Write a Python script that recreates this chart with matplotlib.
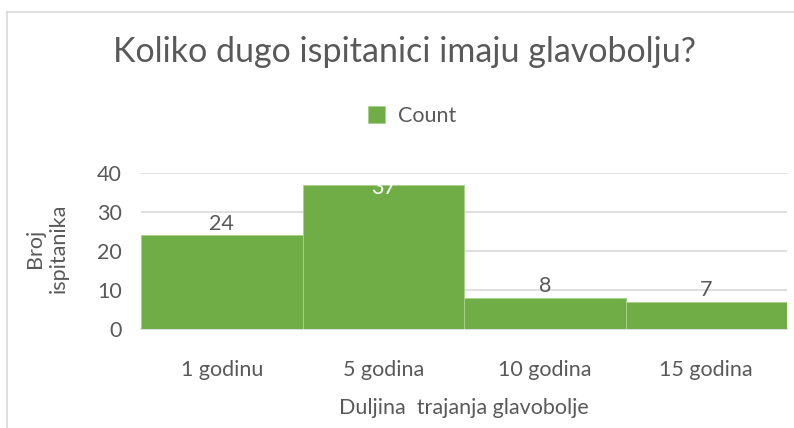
import matplotlib
matplotlib.use("Agg")
import matplotlib.pyplot as plt
from matplotlib.lines import Line2D

categories = ["1 godinu", "5 godina", "10 godina", "15 godina"]
counts = [24, 37, 8, 7]
series_name = "Count"
title = "Koliko dugo ispitanici imaju glavobolju?"
xlabel = "Duljina  trajanja glavobolje"
ylabel = "Broj\nispitanika"
yticks = [0, 10, 20, 30, 40]

plt.rcParams['font.family'] = ['Lato', 'DejaVu Sans']
TXT = '#595959'
GREEN = '#70AD47'
GRID = '#D9D9D9'
FS = 15.5

fig = plt.figure(figsize=(7.94, 4.28), dpi=100)
ax = fig.add_axes([141/794, (428-329)/428, (787-141)/794, (329-173)/428])

x = list(range(len(categories)))
bars = ax.bar(x, counts, width=1.0, color=GREEN, edgecolor='#A9D18E', linewidth=0.6,
              label=series_name, zorder=3)
ax.set_xlim(-0.5, len(categories) - 0.5)
ax.set_ylim(0, 40)
ax.set_yticks(yticks)
ax.set_xticks(x)
ax.set_xticklabels(categories)
ax.tick_params(axis='both', length=0, colors=TXT, labelsize=FS)
ax.tick_params(axis='x', pad=22)
ax.tick_params(axis='y', pad=14)
ax.grid(axis='y', color=GRID, linewidth=1.2, zorder=0)
for s in ['top', 'right', 'left']:
    ax.spines[s].set_visible(False)
ax.spines['bottom'].set_color(GRID)
ax.spines['bottom'].set_linewidth(1.2)

for xi, v in zip(x, counts):
    if v > 34:
        ax.text(xi, v - 2.3, str(v), ha='center', va='baseline', color='white', fontsize=FS, zorder=4)
    else:
        ax.text(xi, v + 1.5, str(v), ha='center', va='baseline', color=TXT, fontsize=FS, zorder=4)

fig.text(404/794, 1 - 52/428, title, ha='center', va='center', fontsize=24.5, color=TXT)
fig.text(464/794, 1 - 408/428, xlabel, ha='center', va='center', fontsize=FS, color=TXT)
fig.text(47/794, 1 - 248/428, ylabel, rotation=90, ha='center', va='center',
         fontsize=FS, color=TXT, multialignment='center', linespacing=1.25)

leg = fig.legend(handles=[bars], labels=[series_name], loc='center',
                 bbox_to_anchor=(412/794, 1 - 116/428), frameon=False,
                 fontsize=FS, handlelength=0.8, handleheight=0.8, handletextpad=0.6)
for t in leg.get_texts():
    t.set_color(TXT)

# chart border
fig.add_artist(Line2D([7/794, 7/794], [0, 1 - 12/428], transform=fig.transFigure, color=GRID, linewidth=1.2))
fig.add_artist(Line2D([7/794, 1], [1 - 12/428, 1 - 12/428], transform=fig.transFigure, color=GRID, linewidth=1.2))

fig.savefig('out.png', dpi=100)
